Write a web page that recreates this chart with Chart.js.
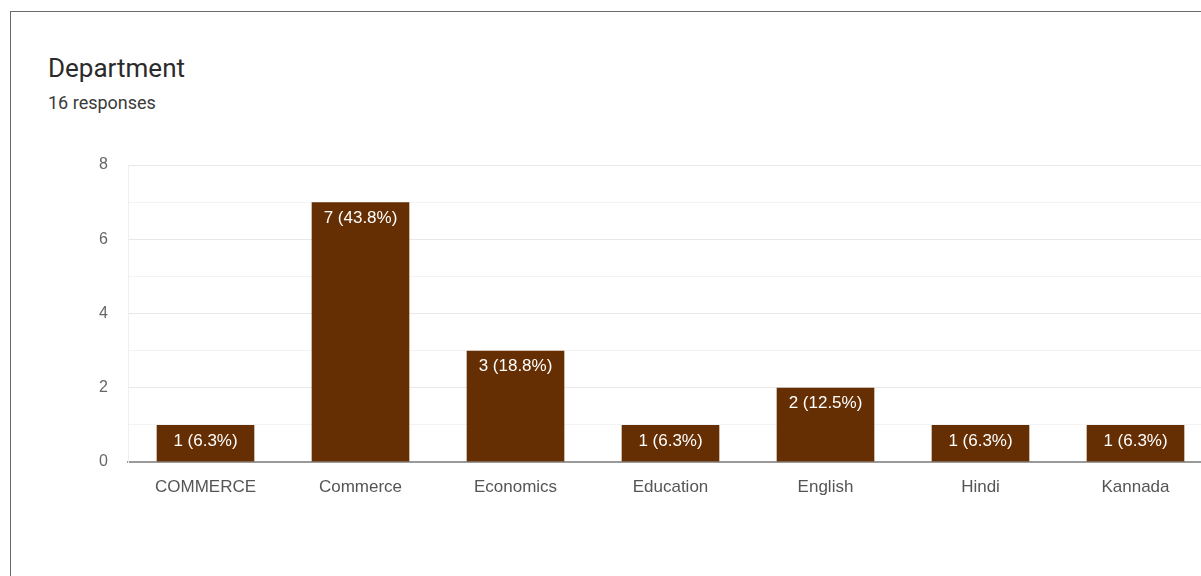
<!DOCTYPE html>
<html>
<head>
<meta charset="utf-8">
<script src="https://cdn.jsdelivr.net/npm/chart.js@4.4.0/dist/chart.umd.min.js"></script>
<style>
  html, body { margin: 0; padding: 0; background: #fff; width: 1201px; height: 576px; overflow: hidden; }
  .card { position: absolute; left: 10px; top: 11px; width: 1400px; height: 700px; border: 1px solid #6a6a6a; }
  .title { position: absolute; left: 48px; top: 53px; font: 400 26px Roboto, sans-serif; color: #2b2b2b; }
  .sub { position: absolute; left: 48px; top: 92px; font: 400 18px Roboto, sans-serif; color: #3a3a3a; }
  #wrap { position: absolute; left: 0; top: 0; width: 1230px; height: 576px; }
</style>
</head>
<body>
<div class="card"></div>
<div class="title">Department</div>
<div class="sub">16 responses</div>
<div id="wrap"><canvas id="deptChart"></canvas></div>
<script>
const categories = ['COMMERCE', 'Commerce', 'Economics', 'Education', 'English', 'Hindi', 'Kannada'];
const counts = [1, 7, 3, 1, 2, 1, 1];
const yTicks = [0, 2, 4, 6, 8];
const totalResponses = 16;

// etiquetas dentro de la barra: "n (p%)"
const barLabels = {
  id: 'barLabels',
  afterDatasetsDraw(chart) {
    const ctx = chart.ctx;
    const meta = chart.getDatasetMeta(0);
    ctx.save();
    ctx.font = '17px "Liberation Sans", Arial, sans-serif';
    ctx.fillStyle = '#ffffff';
    ctx.textAlign = 'center';
    ctx.textBaseline = 'middle';
    meta.data.forEach((bar, i) => {
      const v = counts[i];
      const pct = (v / totalResponses * 100).toFixed(1);
      ctx.fillText(v + ' (' + pct + '%)', bar.x, bar.y + 16);
    });
    ctx.restore();
  }
};

const ctx = document.getElementById('deptChart').getContext('2d');
new Chart(ctx, {
  type: 'bar',
  data: {
    labels: categories,
    datasets: [{
      data: counts,
      backgroundColor: '#652e03',
      borderWidth: 0,
      categoryPercentage: 1,
      barPercentage: 0.63,
    }],
  },
  options: {
    responsive: true,
    maintainAspectRatio: false,
    animation: false,
    layout: { padding: { top: 165, right: 17, left: 0, bottom: 0 } },
    plugins: {
      legend: { display: false },
      tooltip: { enabled: false },
    },
    scales: {
      x: {
        grid: { display: false, drawTicks: false },
        border: { display: true, color: '#9a9a9a', width: 2 },
        ticks: {
          color: '#555',
          padding: 15,
          maxRotation: 0,
          font: { family: '"Liberation Sans", Arial, sans-serif', size: 17 },
        },
        afterFit(scale) { scale.height = 114; },
      },
      y: {
        min: 0,
        max: 8,
        grid: {
          drawTicks: false,
          color: c => (c.tick && c.tick.value % 2 === 0) ? '#e8e8e8' : '#f3f3f3',
        },
        border: { display: true, color: '#efefef' },
        ticks: {
          stepSize: 1,
          padding: 20,
          color: '#666',
          font: { family: '"Liberation Sans", Arial, sans-serif', size: 16 },
          callback: v => yTicks.includes(v) ? v : '',
        },
        afterFit(scale) { scale.width = 128; },
      },
    },
  },
  plugins: [barLabels],
});
</script>
</body>
</html>
